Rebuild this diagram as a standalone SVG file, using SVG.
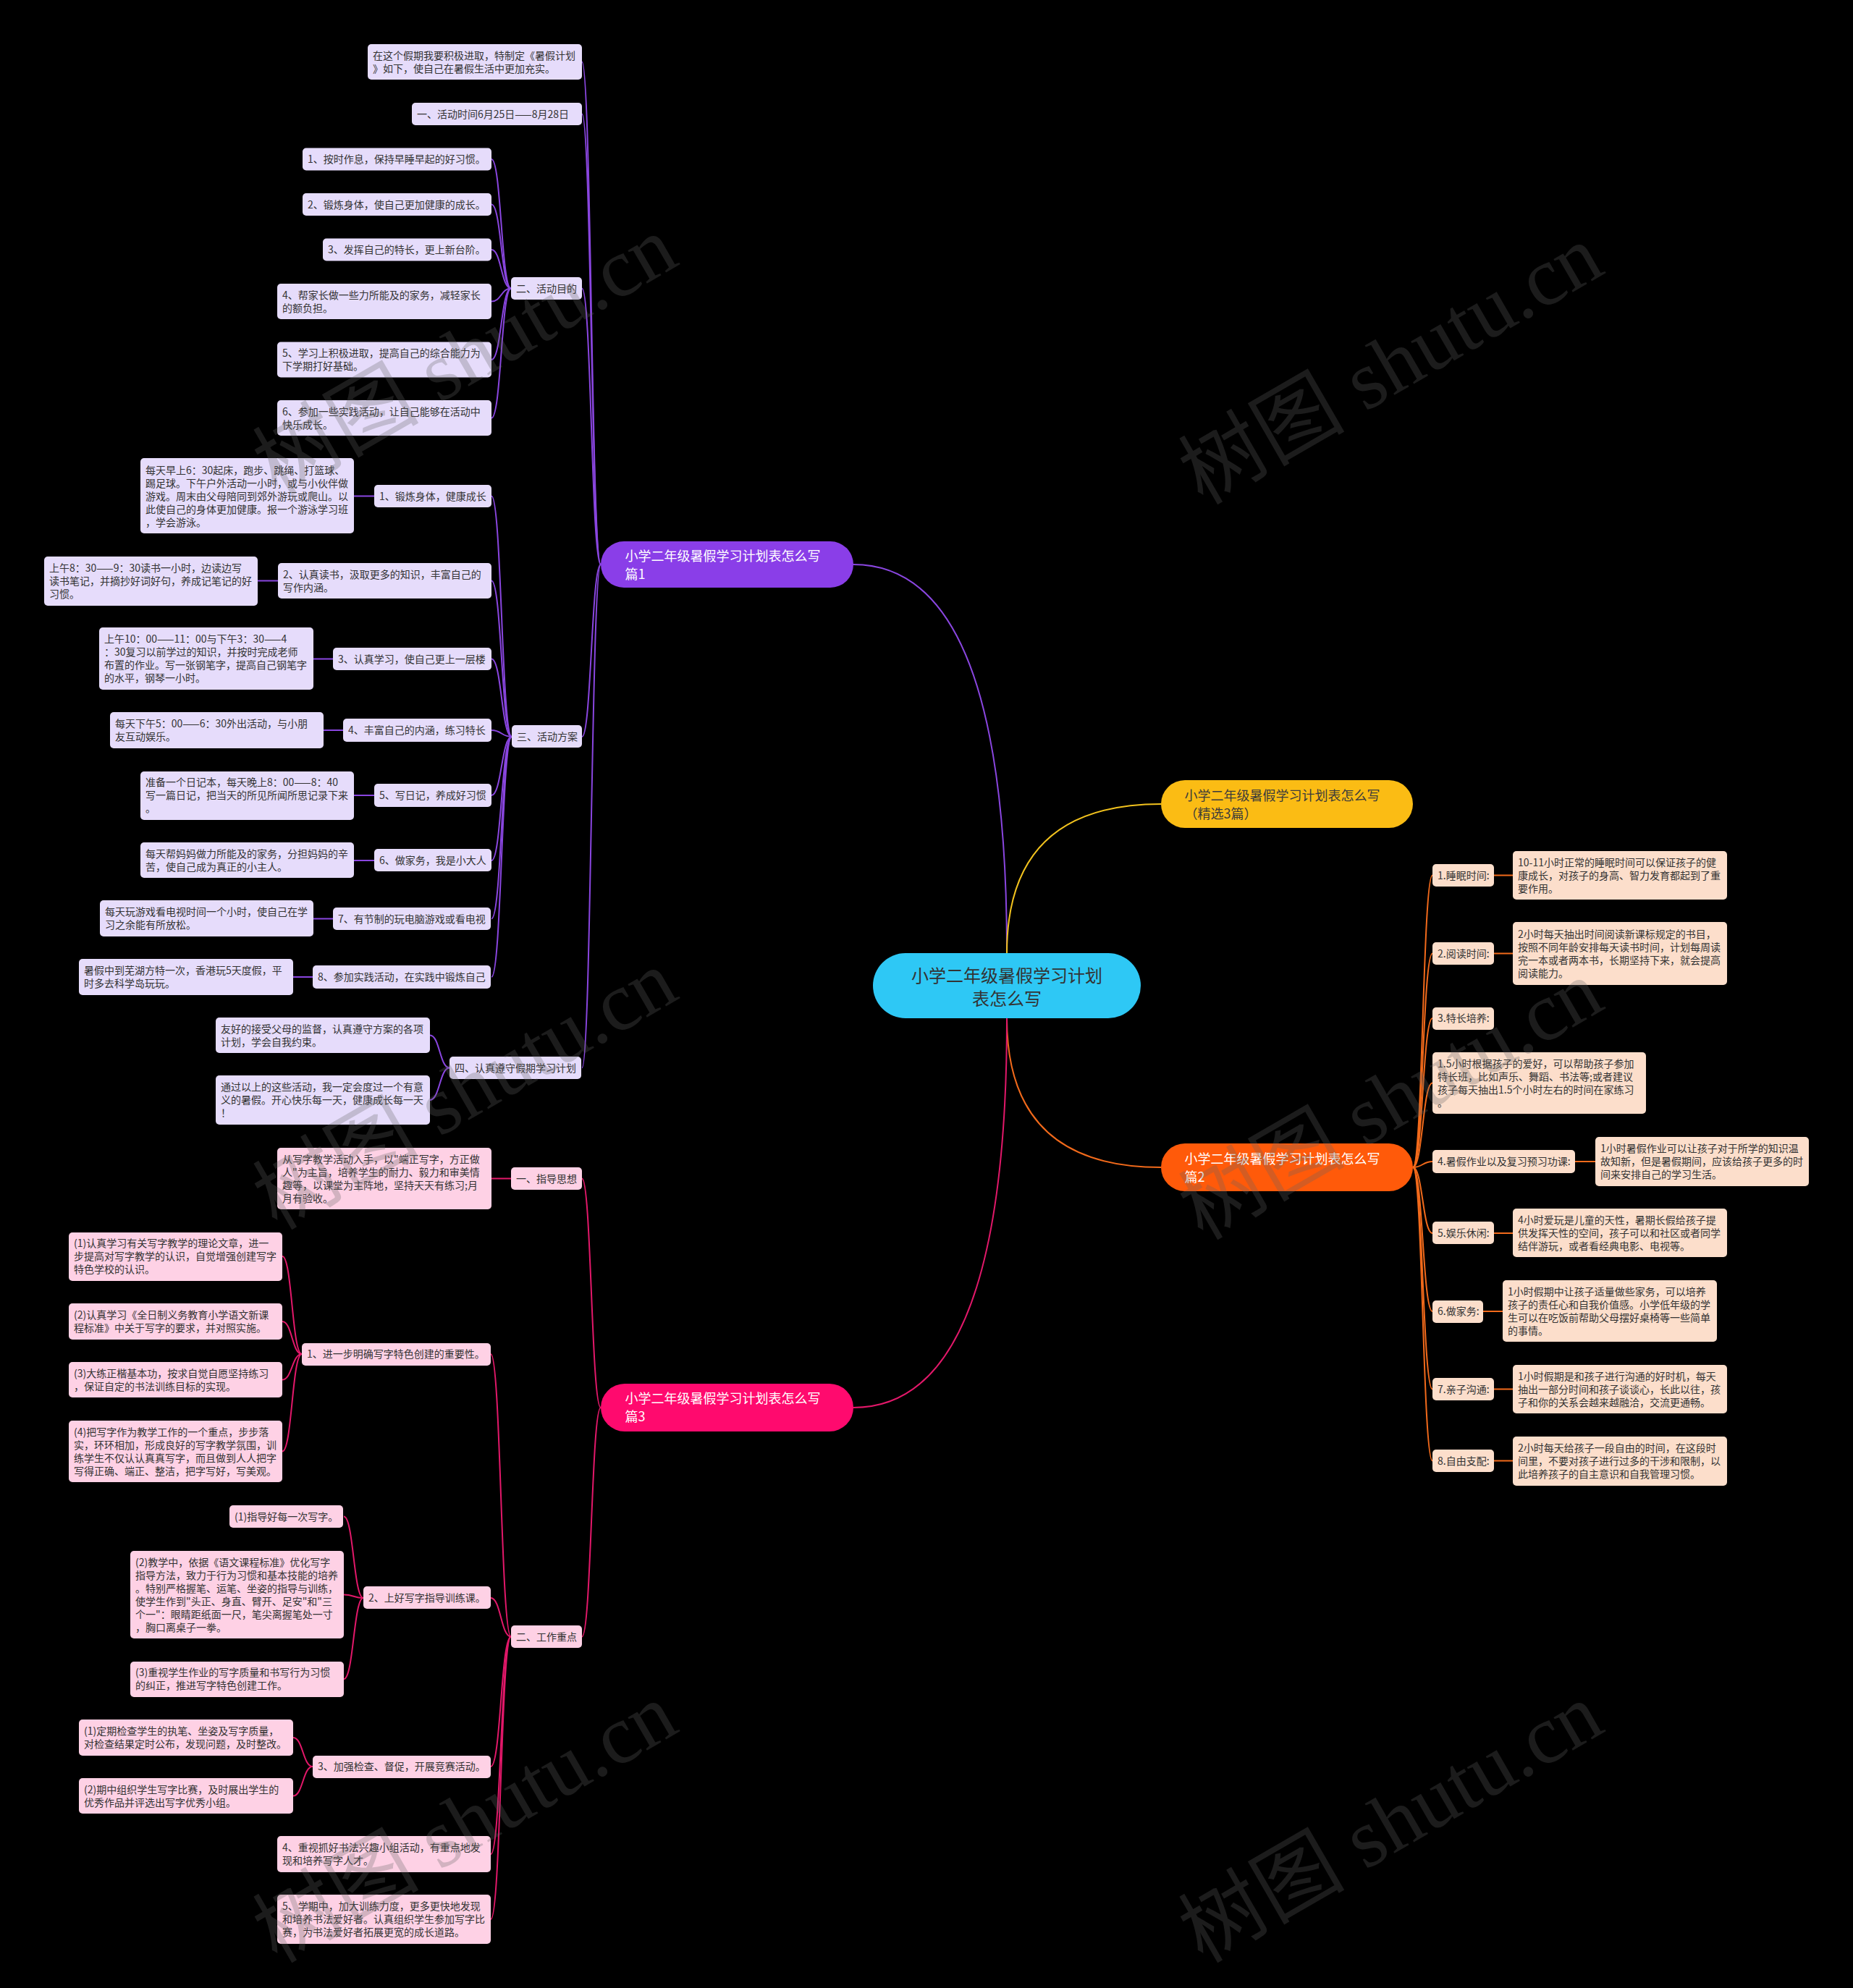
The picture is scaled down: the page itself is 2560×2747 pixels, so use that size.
<svg xmlns="http://www.w3.org/2000/svg" width="2560" height="2747" viewBox="0 0 2560 2747">
<style>
text{font-family:"Noto Sans CJK SC","Noto Sans",sans-serif;}
.t{font-size:14px;fill:#333333;}
.p rect{fill:#e6dcfb;}
.k rect{fill:#fed1e5;}
.o rect{fill:#fcdecb;}
.l1{font-size:18px;fill:#ffffff;}
.l1d{font-size:18px;fill:#3b3b3b;}
.ctr{font-size:24px;fill:#333333;}
.cp{fill:none;stroke:#8a46e0;stroke-width:2;}
.ck{fill:none;stroke:#e3186a;stroke-width:2;}
.co{fill:none;stroke:#f26a1b;stroke-width:2;}
.cy{fill:none;stroke:#f3c31e;stroke-width:2;}
.wm{font-family:"Liberation Serif","Noto Sans CJK SC",serif;font-size:115px;fill:#646464;opacity:0.28;}
</style>
<rect width="2560" height="2747" fill="#000000"/>
<g id="connectors">
<path class="cp" d="M1391 1317 Q1391 780 1179 780"/>
<path class="cy" d="M1391 1317 Q1391 1111 1604 1111"/>
<path class="co" d="M1391 1407 Q1391 1613 1604 1613"/>
<path class="ck" d="M1391 1407 Q1391 1945 1179 1945"/>
<path class="cp" d="M830 780 C817 780 817 85.5 804 85.5"/>
<path class="cp" d="M830 780 C817 780 817 157.5 804 157.5"/>
<path class="cp" d="M830 780 C817 780 817 398.5 804 398.5"/>
<path class="cp" d="M830 780 C817 780 817 1018 804 1018"/>
<path class="cp" d="M830 780 C817 780 817 1475.5 804 1475.5"/>
<path class="cp" d="M706 398.5 C692.5 398.5 692.5 220 679 220"/>
<path class="cp" d="M706 398.5 C692.5 398.5 692.5 282.5 679 282.5"/>
<path class="cp" d="M706 398.5 C692.5 398.5 692.5 345 679 345"/>
<path class="cp" d="M706 398.5 C692.5 398.5 692.5 416.5 679 416.5"/>
<path class="cp" d="M706 398.5 C692.5 398.5 692.5 497 679 497"/>
<path class="cp" d="M706 398.5 C692.5 398.5 692.5 577.5 679 577.5"/>
<path class="cp" d="M707 1018 C693 1018 693 685.5 679 685.5"/>
<path class="cp" d="M707 1018 C693 1018 693 802.5 679 802.5"/>
<path class="cp" d="M707 1018 C693 1018 693 910.5 679 910.5"/>
<path class="cp" d="M707 1018 C693 1018 693 1009 679 1009"/>
<path class="cp" d="M707 1018 C693 1018 693 1099 679 1099"/>
<path class="cp" d="M707 1018 C693 1018 693 1189 679 1189"/>
<path class="cp" d="M707 1018 C693 1018 693 1269.5 679 1269.5"/>
<path class="cp" d="M707 1018 C693 1018 693 1350 679 1350"/>
<path class="cp" d="M517 685.5 L489 685.5"/>
<path class="cp" d="M384 802.5 L356 802.5"/>
<path class="cp" d="M460 910.5 L433 910.5"/>
<path class="cp" d="M474 1009 L447 1009"/>
<path class="cp" d="M517 1099 L489 1099"/>
<path class="cp" d="M517 1189 L489 1189"/>
<path class="cp" d="M460 1269.5 L433 1269.5"/>
<path class="cp" d="M432 1350 L405 1350"/>
<path class="cp" d="M621 1475.5 C607.5 1475.5 607.5 1430.5 594 1430.5"/>
<path class="cp" d="M621 1475.5 C607.5 1475.5 607.5 1520 594 1520"/>
<path class="ck" d="M830 1945 C817 1945 817 1628.5 804 1628.5"/>
<path class="ck" d="M830 1945 C817 1945 817 2261.5 804 2261.5"/>
<path class="ck" d="M706 1628.5 L679 1628.5"/>
<path class="ck" d="M706 2261.5 C692 2261.5 692 1871 678 1871"/>
<path class="ck" d="M706 2261.5 C692 2261.5 692 2208 678 2208"/>
<path class="ck" d="M706 2261.5 C692 2261.5 692 2441 678 2441"/>
<path class="ck" d="M706 2261.5 C692 2261.5 692 2562 678 2562"/>
<path class="ck" d="M706 2261.5 C692 2261.5 692 2652 678 2652"/>
<path class="ck" d="M417 1871 C403.5 1871 403.5 1736 390 1736"/>
<path class="ck" d="M417 1871 C403.5 1871 403.5 1826 390 1826"/>
<path class="ck" d="M417 1871 C403.5 1871 403.5 1906.5 390 1906.5"/>
<path class="ck" d="M417 1871 C403.5 1871 403.5 2005.5 390 2005.5"/>
<path class="ck" d="M502 2208 C488.5 2208 488.5 2095.5 475 2095.5"/>
<path class="ck" d="M502 2208 C488.5 2208 488.5 2203.5 475 2203.5"/>
<path class="ck" d="M502 2208 C488.5 2208 488.5 2320 475 2320"/>
<path class="ck" d="M432 2441 C418.5 2441 418.5 2401 405 2401"/>
<path class="ck" d="M432 2441 C418.5 2441 418.5 2481.5 405 2481.5"/>
<path class="co" d="M1952 1613 C1965.5 1613 1965.5 1209.5 1979 1209.5"/>
<path class="co" d="M1952 1613 C1965.5 1613 1965.5 1317.5 1979 1317.5"/>
<path class="co" d="M1952 1613 C1965.5 1613 1965.5 1407 1979 1407"/>
<path class="co" d="M1952 1613 C1965.5 1613 1965.5 1496.5 1979 1496.5"/>
<path class="co" d="M1952 1613 C1965.5 1613 1965.5 1605 1979 1605"/>
<path class="co" d="M1952 1613 C1965.5 1613 1965.5 1704 1979 1704"/>
<path class="co" d="M1952 1613 C1965.5 1613 1965.5 1812 1979 1812"/>
<path class="co" d="M1952 1613 C1965.5 1613 1965.5 1919.5 1979 1919.5"/>
<path class="co" d="M1952 1613 C1965.5 1613 1965.5 2018.5 1979 2018.5"/>
<path class="co" d="M2064 1209.5 L2090 1209.5"/>
<path class="co" d="M2064 1317.5 L2090 1317.5"/>
<path class="co" d="M2176 1605 L2204 1605"/>
<path class="co" d="M2064 1704 L2090 1704"/>
<path class="co" d="M2049 1812 L2076 1812"/>
<path class="co" d="M2064 1919.5 L2090 1919.5"/>
<path class="co" d="M2064 2018.5 L2090 2018.5"/>
</g>

<g id="center"><rect x="1206" y="1317" width="370" height="90" rx="45" fill="#2ec8f5"/>
<text class="ctr" x="1391" text-anchor="middle"><tspan x="1391" y="1357">小学二年级暑假学习计划</tspan><tspan x="1391" y="1388.5">表怎么写</tspan></text></g>

<g id="b1"><rect x="830" y="748" width="349" height="64" rx="32" fill="#8a3ee8"/>
<text class="l1"><tspan x="863.5" y="774.5">小学二年级暑假学习计划表怎么写</tspan><tspan x="863.5" y="799.5">篇1</tspan></text></g>
<g id="b0"><rect x="1604" y="1078" width="348" height="66" rx="33" fill="#fbbc14"/>
<text class="l1d"><tspan x="1636.5" y="1105.5">小学二年级暑假学习计划表怎么写</tspan><tspan x="1636.5" y="1130.5">（精选3篇）</tspan></text></g>
<g id="b2"><rect x="1604" y="1580" width="348" height="66" rx="33" fill="#ff5a0a"/>
<text class="l1"><tspan x="1636.5" y="1607.5">小学二年级暑假学习计划表怎么写</tspan><tspan x="1636.5" y="1632.5">篇2</tspan></text></g>
<g id="b3"><rect x="830" y="1912" width="349" height="66" rx="33" fill="#ff0a6e"/>
<text class="l1"><tspan x="863.5" y="1939">小学二年级暑假学习计划表怎么写</tspan><tspan x="863.5" y="1964">篇3</tspan></text></g>

<g class="p">
<g id="p0"><rect x="508" y="61" width="296" height="49" rx="5"/><text class="t"><tspan x="515" y="81.5">在这个假期我要积极进取，特制定《暑假计划</tspan><tspan x="515" y="99.5">》如下，使自己在暑假生活中更加充实。</tspan></text></g>
<g id="p1"><rect x="569" y="142" width="235" height="31" rx="5"/><text class="t" x="576" y="162.5">一、活动时间6月25日——8月28日</text></g>
<g id="p2"><rect x="706" y="383" width="98" height="31" rx="5"/><text class="t" x="713" y="403.5">二、活动目的</text></g>
<g id="p2a"><rect x="418" y="204.5" width="261" height="31" rx="5"/><text class="t" x="425" y="225">1、按时作息，保持早睡早起的好习惯。</text></g>
<g id="p2b"><rect x="418" y="267" width="261" height="31" rx="5"/><text class="t" x="425" y="287.5">2、锻炼身体，使自己更加健康的成长。</text></g>
<g id="p2c"><rect x="446" y="329.5" width="233" height="31" rx="5"/><text class="t" x="453" y="350">3、发挥自己的特长，更上新台阶。</text></g>
<g id="p2d"><rect x="383" y="392" width="296" height="49" rx="5"/><text class="t"><tspan x="390" y="412.5">4、帮家长做一些力所能及的家务，减轻家长</tspan><tspan x="390" y="430.5">的额负担。</tspan></text></g>
<g id="p2e"><rect x="383" y="472.5" width="296" height="49" rx="5"/><text class="t"><tspan x="390" y="493">5、学习上积极进取，提高自己的综合能力为</tspan><tspan x="390" y="511">下学期打好基础。</tspan></text></g>
<g id="p2f"><rect x="383" y="553" width="296" height="49" rx="5"/><text class="t"><tspan x="390" y="573.5">6、参加一些实践活动，让自己能够在活动中</tspan><tspan x="390" y="591.5">快乐成长。</tspan></text></g>
<g id="p3"><rect x="707" y="1002" width="97" height="31" rx="5"/><text class="t" x="714" y="1023">三、活动方案</text></g>
<g id="p3a"><rect x="517" y="670" width="162" height="31" rx="5"/><text class="t" x="524" y="690.5">1、锻炼身体，健康成长</text></g>
<g id="p3ad"><rect x="194" y="633" width="295" height="104" rx="5"/><text class="t"><tspan x="201" y="654.5">每天早上6：30起床，跑步、跳绳、打篮球、</tspan><tspan x="201" y="672.5">踢足球。下午户外活动一小时，或与小伙伴做</tspan><tspan x="201" y="690.5">游戏。周末由父母陪同到郊外游玩或爬山。以</tspan><tspan x="201" y="708.5">此使自己的身体更加健康。报一个游泳学习班</tspan><tspan x="201" y="726.5">，学会游泳。</tspan></text></g>
<g id="p3b"><rect x="384" y="778" width="295" height="49" rx="5"/><text class="t"><tspan x="391" y="798.5">2、认真读书，汲取更多的知识，丰富自己的</tspan><tspan x="391" y="816.5">写作内涵。</tspan></text></g>
<g id="p3bd"><rect x="61" y="769" width="295" height="68" rx="5"/><text class="t"><tspan x="68" y="790">上午8：30——9：30读书一小时，边读边写</tspan><tspan x="68" y="808">读书笔记，并摘抄好词好句，养成记笔记的好</tspan><tspan x="68" y="826">习惯。</tspan></text></g>
<g id="p3c"><rect x="460" y="895" width="219" height="31" rx="5"/><text class="t" x="467" y="915.5">3、认真学习，使自己更上一层楼</text></g>
<g id="p3cd"><rect x="137" y="867" width="296" height="86" rx="5"/><text class="t"><tspan x="144" y="888">上午10：00——11：00与下午3：30——4</tspan><tspan x="144" y="906">：30复习以前学过的知识，并按时完成老师</tspan><tspan x="144" y="924">布置的作业。写一张钢笔字，提高自己钢笔字</tspan><tspan x="144" y="942">的水平，钢琴一小时。</tspan></text></g>
<g id="p3d"><rect x="474" y="993" width="205" height="32" rx="5"/><text class="t" x="481" y="1014">4、丰富自己的内涵，练习特长</text></g>
<g id="p3dd"><rect x="152" y="984" width="295" height="50" rx="5"/><text class="t"><tspan x="159" y="1005">每天下午5：00——6：30外出活动，与小朋</tspan><tspan x="159" y="1023">友互动娱乐。</tspan></text></g>
<g id="p3e"><rect x="517" y="1083" width="162" height="32" rx="5"/><text class="t" x="524" y="1104">5、写日记，养成好习惯</text></g>
<g id="p3ed"><rect x="194" y="1066" width="295" height="67" rx="5"/><text class="t"><tspan x="201" y="1086">准备一个日记本，每天晚上8：00——8：40</tspan><tspan x="201" y="1104">写一篇日记，把当天的所见所闻所思记录下来</tspan><tspan x="201" y="1122">。</tspan></text></g>
<g id="p3f"><rect x="517" y="1173" width="162" height="31" rx="5"/><text class="t" x="524" y="1194">6、做家务，我是小大人</text></g>
<g id="p3fd"><rect x="194" y="1164" width="295" height="49" rx="5"/><text class="t"><tspan x="201" y="1185">每天帮妈妈做力所能及的家务，分担妈妈的辛</tspan><tspan x="201" y="1203">苦，使自己成为真正的小主人。</tspan></text></g>
<g id="p3g"><rect x="460" y="1254" width="218" height="31" rx="5"/><text class="t" x="467" y="1274.5">7、有节制的玩电脑游戏或看电视</text></g>
<g id="p3gd"><rect x="138" y="1244" width="295" height="50" rx="5"/><text class="t"><tspan x="145" y="1265">每天玩游戏看电视时间一个小时，使自己在学</tspan><tspan x="145" y="1283">习之余能有所放松。</tspan></text></g>
<g id="p3h"><rect x="432" y="1334" width="246" height="32" rx="5"/><text class="t" x="439" y="1355">8、参加实践活动，在实践中锻炼自己</text></g>
<g id="p3hd"><rect x="109" y="1325" width="296" height="50" rx="5"/><text class="t"><tspan x="116" y="1346">暑假中到芜湖方特一次，香港玩5天度假，平</tspan><tspan x="116" y="1364">时多去科学岛玩玩。</tspan></text></g>
<g id="p4"><rect x="621" y="1460" width="182" height="31" rx="5"/><text class="t" x="628" y="1480.5">四、认真遵守假期学习计划</text></g>
<g id="p4a"><rect x="298" y="1406" width="296" height="49" rx="5"/><text class="t"><tspan x="305" y="1426.5">友好的接受父母的监督，认真遵守方案的各项</tspan><tspan x="305" y="1444.5">计划，学会自我约束。</tspan></text></g>
<g id="p4b"><rect x="298" y="1486" width="296" height="68" rx="5"/><text class="t"><tspan x="305" y="1507">通过以上的这些活动，我一定会度过一个有意</tspan><tspan x="305" y="1525">义的暑假。开心快乐每一天，健康成长每一天</tspan><tspan x="305" y="1543">！</tspan></text></g>
</g>

<g class="k">
<g id="k1"><rect x="706" y="1613" width="98" height="31" rx="5"/><text class="t" x="713" y="1633.5">一、指导思想</text></g>
<g id="k1d"><rect x="383" y="1586" width="296" height="85" rx="5"/><text class="t"><tspan x="390" y="1606.5">从写字教学活动入手，以"端正写字，方正做</tspan><tspan x="390" y="1624.5">人"为主旨，培养学生的耐力、毅力和审美情</tspan><tspan x="390" y="1642.5">趣等，以课堂为主阵地，坚持天天有练习;月</tspan><tspan x="390" y="1660.5">月有验收。</tspan></text></g>
<g id="k2"><rect x="706" y="2246" width="98" height="31" rx="5"/><text class="t" x="713" y="2266.5">二、工作重点</text></g>
<g id="k2a"><rect x="417" y="1856" width="261" height="31" rx="5"/><text class="t" x="424" y="1876">1、进一步明确写字特色创建的重要性。</text></g>
<g id="k2a1"><rect x="95" y="1703" width="295" height="67" rx="5"/><text class="t"><tspan x="102" y="1723">(1)认真学习有关写字教学的理论文章，进一</tspan><tspan x="102" y="1741">步提高对写字教学的认识，自觉增强创建写字</tspan><tspan x="102" y="1759">特色学校的认识。</tspan></text></g>
<g id="k2a2"><rect x="95" y="1801" width="295" height="50" rx="5"/><text class="t"><tspan x="102" y="1822">(2)认真学习《全日制义务教育小学语文新课</tspan><tspan x="102" y="1840">程标准》中关于写字的要求，并对照实施。</tspan></text></g>
<g id="k2a3"><rect x="95" y="1882" width="295" height="49" rx="5"/><text class="t"><tspan x="102" y="1902.5">(3)大练正楷基本功，按求自觉自愿坚持练习</tspan><tspan x="102" y="1920.5">，保证自定的书法训练目标的实现。</tspan></text></g>
<g id="k2a4"><rect x="95" y="1963" width="295" height="85" rx="5"/><text class="t"><tspan x="102" y="1983.5">(4)把写字作为教学工作的一个重点，步步落</tspan><tspan x="102" y="2001.5">实，环环相加，形成良好的写字教学氛围，训</tspan><tspan x="102" y="2019.5">练学生不仅认认真真写字，而且做到人人把字</tspan><tspan x="102" y="2037.5">写得正确、端正、整洁，把字写好，写美观。</tspan></text></g>
<g id="k2b"><rect x="502" y="2192" width="176" height="31" rx="5"/><text class="t" x="509" y="2213">2、上好写字指导训练课。</text></g>
<g id="k2b1"><rect x="317" y="2080" width="157" height="31" rx="5"/><text class="t" x="324" y="2100.5">(1)指导好每一次写字。</text></g>
<g id="k2b2"><rect x="180" y="2143" width="295" height="121" rx="5"/><text class="t"><tspan x="187" y="2163.5">(2)教学中，依据《语文课程标准》优化写字</tspan><tspan x="187" y="2181.5">指导方法，致力于行为习惯和基本技能的培养</tspan><tspan x="187" y="2199.5">。特别严格握笔、运笔、坐姿的指导与训练，</tspan><tspan x="187" y="2217.5">使学生作到"头正、身直、臂开、足安"和"三</tspan><tspan x="187" y="2235.5">个一"：眼睛距纸面一尺，笔尖离握笔处一寸</tspan><tspan x="187" y="2253.5">，胸口离桌子一拳。</tspan></text></g>
<g id="k2b3"><rect x="180" y="2296" width="295" height="49" rx="5"/><text class="t"><tspan x="187" y="2316">(3)重视学生作业的写字质量和书写行为习惯</tspan><tspan x="187" y="2334">的纠正，推进写字特色创建工作。</tspan></text></g>
<g id="k2c"><rect x="432" y="2426" width="246" height="31" rx="5"/><text class="t" x="439" y="2446">3、加强检查、督促，开展竞赛活动。</text></g>
<g id="k2c1"><rect x="109" y="2376" width="296" height="50" rx="5"/><text class="t"><tspan x="116" y="2397">(1)定期检查学生的执笔、坐姿及写字质量，</tspan><tspan x="116" y="2415">对检查结果定时公布，发现问题，及时整改。</tspan></text></g>
<g id="k2c2"><rect x="109" y="2457" width="296" height="49" rx="5"/><text class="t"><tspan x="116" y="2477.5">(2)期中组织学生写字比赛，及时展出学生的</tspan><tspan x="116" y="2495.5">优秀作品并评选出写字优秀小组。</tspan></text></g>
<g id="k2d"><rect x="383" y="2537" width="295" height="50" rx="5"/><text class="t"><tspan x="390" y="2558">4、重视抓好书法兴趣小组活动，有重点地发</tspan><tspan x="390" y="2576">现和培养写字人才。</tspan></text></g>
<g id="k2e"><rect x="383" y="2618" width="295" height="68" rx="5"/><text class="t"><tspan x="390" y="2639">5、学期中，加大训练力度，更多更快地发现</tspan><tspan x="390" y="2657">和培养书法爱好者。认真组织学生参加写字比</tspan><tspan x="390" y="2675">赛，为书法爱好者拓展更宽的成长道路。</tspan></text></g>
</g>

<g class="o">
<g id="o1"><rect x="1979" y="1194" width="85" height="31" rx="5"/><text class="t" x="1986" y="1214.5">1.睡眠时间:</text></g>
<g id="o1d"><rect x="2090" y="1176" width="296" height="67" rx="5"/><text class="t"><tspan x="2097" y="1196.5">10-11小时正常的睡眠时间可以保证孩子的健</tspan><tspan x="2097" y="1214.5">康成长，对孩子的身高、智力发育都起到了重</tspan><tspan x="2097" y="1232.5">要作用。</tspan></text></g>
<g id="o2"><rect x="1979" y="1302" width="85" height="31" rx="5"/><text class="t" x="1986" y="1322.5">2.阅读时间:</text></g>
<g id="o2d"><rect x="2090" y="1274" width="296" height="87" rx="5"/><text class="t"><tspan x="2097" y="1295.5">2小时每天抽出时间阅读新课标规定的书目，</tspan><tspan x="2097" y="1313.5">按照不同年龄安排每天读书时间，计划每周读</tspan><tspan x="2097" y="1331.5">完一本或者两本书，长期坚持下来，就会提高</tspan><tspan x="2097" y="1349.5">阅读能力。</tspan></text></g>
<g id="o3"><rect x="1979" y="1392" width="85" height="31" rx="5"/><text class="t" x="1986" y="1412">3.特长培养:</text></g>
<g id="o3b"><rect x="1979" y="1454" width="295" height="85" rx="5"/><text class="t"><tspan x="1986" y="1474.5">1.5小时根据孩子的爱好，可以帮助孩子参加</tspan><tspan x="1986" y="1492.5">特长班，比如声乐、舞蹈、书法等;或者建议</tspan><tspan x="1986" y="1510.5">孩子每天抽出1.5个小时左右的时间在家练习</tspan><tspan x="1986" y="1528.5">。</tspan></text></g>
<g id="o4"><rect x="1979" y="1589" width="197" height="32" rx="5"/><text class="t" x="1986" y="1610">4.暑假作业以及复习预习功课:</text></g>
<g id="o4d"><rect x="2204" y="1571" width="295" height="68" rx="5"/><text class="t"><tspan x="2211" y="1592">1小时暑假作业可以让孩子对于所学的知识温</tspan><tspan x="2211" y="1610">故知新，但是暑假期间，应该给孩子更多的时</tspan><tspan x="2211" y="1628">间来安排自己的学习生活。</tspan></text></g>
<g id="o5"><rect x="1979" y="1688" width="85" height="31" rx="5"/><text class="t" x="1986" y="1709">5.娱乐休闲:</text></g>
<g id="o5d"><rect x="2090" y="1670" width="296" height="67" rx="5"/><text class="t"><tspan x="2097" y="1691">4小时爱玩是儿童的天性，暑期长假给孩子提</tspan><tspan x="2097" y="1709">供发挥天性的空间，孩子可以和社区或者同学</tspan><tspan x="2097" y="1727">结伴游玩，或者看经典电影、电视等。</tspan></text></g>
<g id="o6"><rect x="1979" y="1797" width="70" height="31" rx="5"/><text class="t" x="1986" y="1817">6.做家务:</text></g>
<g id="o6d"><rect x="2076" y="1769" width="296" height="85" rx="5"/><text class="t"><tspan x="2083" y="1790">1小时假期中让孩子适量做些家务，可以培养</tspan><tspan x="2083" y="1808">孩子的责任心和自我价值感。小学低年级的学</tspan><tspan x="2083" y="1826">生可以在吃饭前帮助父母摆好桌椅等一些简单</tspan><tspan x="2083" y="1844">的事情。</tspan></text></g>
<g id="o7"><rect x="1979" y="1904" width="85" height="31" rx="5"/><text class="t" x="1986" y="1924.5">7.亲子沟通:</text></g>
<g id="o7d"><rect x="2090" y="1886" width="296" height="67" rx="5"/><text class="t"><tspan x="2097" y="1906.5">1小时假期是和孩子进行沟通的好时机，每天</tspan><tspan x="2097" y="1924.5">抽出一部分时间和孩子谈谈心，长此以往，孩</tspan><tspan x="2097" y="1942.5">子和你的关系会越来越融洽，交流更通畅。</tspan></text></g>
<g id="o8"><rect x="1979" y="2003" width="85" height="31" rx="5"/><text class="t" x="1986" y="2023.5">8.自由支配:</text></g>
<g id="o8d"><rect x="2090" y="1985" width="296" height="68" rx="5"/><text class="t"><tspan x="2097" y="2006">2小时每天给孩子一段自由的时间，在这段时</tspan><tspan x="2097" y="2024">间里，不要对孩子进行过多的干涉和限制，以</tspan><tspan x="2097" y="2042">此培养孩子的自主意识和自我管理习惯。</tspan></text></g>
</g>

<g id="watermarks">
<text class="wm" x="645" y="530" text-anchor="middle" transform="rotate(-30 645 496)">树图 shutu.cn</text>
<text class="wm" x="1924" y="542" text-anchor="middle" transform="rotate(-30 1924 508)">树图 shutu.cn</text>
<text class="wm" x="645" y="1544" text-anchor="middle" transform="rotate(-30 645 1510)">树图 shutu.cn</text>
<text class="wm" x="1924" y="1558" text-anchor="middle" transform="rotate(-30 1924 1524)">树图 shutu.cn</text>
<text class="wm" x="645" y="2557" text-anchor="middle" transform="rotate(-30 645 2523)">树图 shutu.cn</text>
<text class="wm" x="1924" y="2557" text-anchor="middle" transform="rotate(-30 1924 2523)">树图 shutu.cn</text>
</g>
</svg>
